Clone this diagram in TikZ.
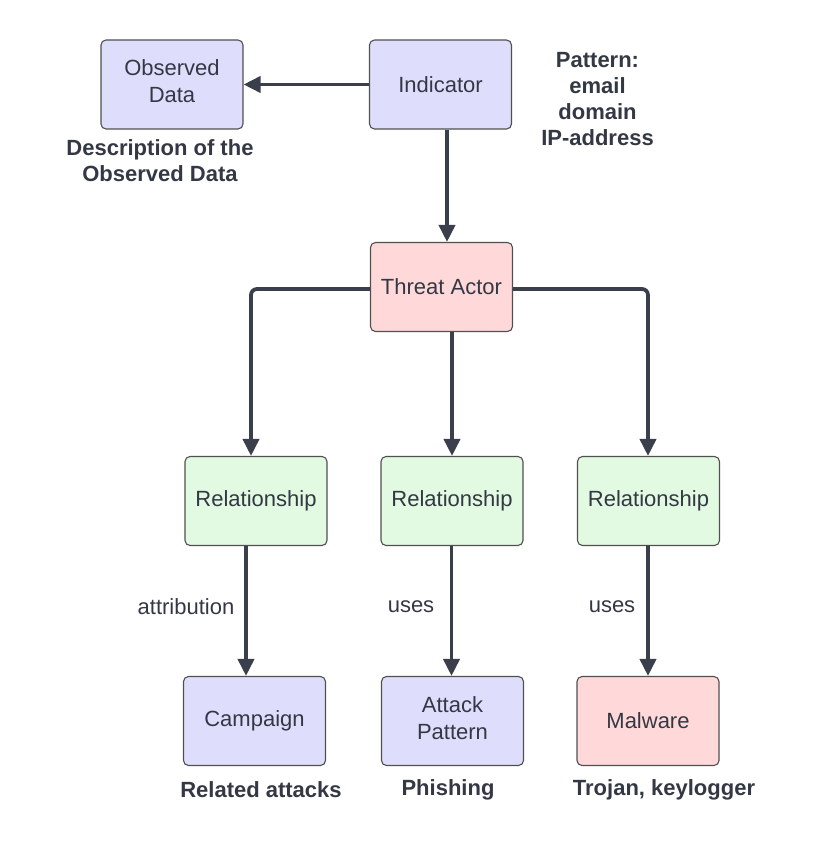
\documentclass[tikz,border=0pt]{standalone}
\usepackage{fontspec}
\setmainfont{Liberation Sans}
\usetikzlibrary{arrows.meta}
\definecolor{ink}{HTML}{3A3F4B}
\definecolor{txt}{HTML}{333844}
\definecolor{bordc}{HTML}{505050}
\definecolor{lav}{HTML}{DEDEFC}
\definecolor{mint}{HTML}{E2F9E2}
\definecolor{rose}{HTML}{FFD9D9}
\newcommand{\dropfix}{\rule[-6pt]{0pt}{0pt}}
\tikzset{
  box/.style={draw=bordc, line width=1.1pt, rounded corners=5pt, minimum width=142pt, minimum height=89pt, inner sep=0pt, align=center, text=txt, font=\fontsize{22}{27}\selectfont},
  lavbox/.style={box, fill=lav},
  mintbox/.style={box, fill=mint},
  rosebox/.style={box, fill=rose},
  boldlbl/.style={text=txt, align=center, font=\fontsize{22}{26}\selectfont\bfseries, inner sep=0pt},
  plainlbl/.style={text=txt, font=\fontsize{22}{25}\selectfont, inner sep=0pt},
  conn/.style={draw=ink, line width=3.8pt, -{Triangle[length=17pt,width=16pt]}},
  line/.style={draw=ink, line width=3.8pt, rounded corners=6pt}
}
\begin{document}
\begin{tikzpicture}[x=1pt,y=-1pt]
\useasboundingbox (0,0) rectangle (824,862);
% nodes
\node[lavbox] (obs) at (172,84.5) {Observed\\Data\dropfix};
\node[lavbox] (ind) at (440.5,84.5) {Indicator};
\node[boldlbl] (pat) at (597.5,99) {Pattern:\\email\\domain\\IP-address};
\node[boldlbl] (desc) at (160,161) {Description of the\\Observed Data};
\node[rosebox] (ta) at (441.5,287) {Threat Actor};
\node[mintbox] (r1) at (256,501) {Relationship};
\node[mintbox] (r2) at (452,501) {Relationship};
\node[mintbox] (r3) at (648.5,501) {Relationship};
\node[lavbox] (camp) at (254.5,721) {Campaign};
\node[lavbox] (ap) at (452.5,721) {Attack\\Pattern\dropfix};
\node[rosebox] (mal) at (648,721) {Malware};
\node[plainlbl] (l1) at (186,607) {attribution};
\node[plainlbl] (l2) at (411,607) {uses};
\node[plainlbl] (l3) at (612,607) {uses};
\node[boldlbl] (b1) at (261,790) {Related attacks};
\node[boldlbl] (b2) at (448,790) {Phishing};
\node[boldlbl] (b3) at (664,790) {Trojan, keylogger};
% connectors
\draw[conn] (ind.west) -- (obs.east);
\draw[conn] (ind.south -| 447,0) -- (ta.north -| 447,0);
\draw[line] (ta.west |- 0,289) -| (251,440);
\draw[conn] (251,430) -- (r1.north -| 251,0);
\draw[line] (ta.east |- 0,289) -| (648,440);
\draw[conn] (648,430) -- (r3.north -| 648,0);
\draw[conn] (ta.south -| 452,0) -- (r2.north -| 452,0);
\draw[conn] (r1.south -| 246,0) -- (camp.north -| 246,0);
\draw[conn] (r2.south -| 451.5,0) -- (ap.north -| 451.5,0);
\draw[conn] (r3.south -| 648,0) -- (mal.north -| 648,0);
\end{tikzpicture}
\end{document}
